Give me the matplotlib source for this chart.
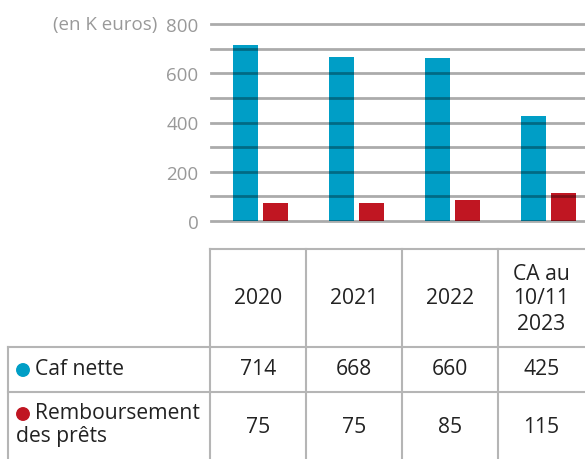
import matplotlib
matplotlib.use("Agg")
import matplotlib.pyplot as plt
from matplotlib.lines import Line2D
from matplotlib.patches import Ellipse

# ---- data ----
categories = ["2020", "2021", "2022", "CA au\n10/11\n2023"]
caf_nette = [714, 668, 660, 425]
remboursement = [75, 75, 85, 115]
series_labels = ["Caf nette", "Remboursement\ndes prêts"]
yticks = [0, 200, 400, 600, 800]
unit_label = "(en K euros)"

BLUE = "#009ec6"
RED = "#c01622"
TXT = "#222222"
TICK = "#999999"
FONT = "Open Sans"

W, H = 585, 460
fig = plt.figure(figsize=(W / 100, H / 100), dpi=100)

def fx(px):
    return px / W

def fy(py):
    return 1 - py / H

# ---- bar chart axes ----
ax_left, ax_right, ax_top, ax_bot = 211, 585, 25, 222
ax = fig.add_axes([fx(ax_left), fy(ax_bot), fx(ax_right - ax_left), (ax_bot - ax_top) / H])
col_w = 96.0
c0 = 258.0
ax.set_xlim((ax_left - c0) / col_w, (ax_right - c0) / col_w)
ax.set_ylim(0, 800)
bw = 25 / col_w
xs = list(range(len(categories)))
ax.bar([x - 12.5 / col_w for x in xs], caf_nette, width=bw, color=BLUE, zorder=2)
ax.bar([x + 17.5 / col_w for x in xs], remboursement, width=bw, color=RED, zorder=2)
for v in range(0, 801, 100):
    ax.axhline(v, color="black", alpha=0.33, lw=2, zorder=3, clip_on=False)
for s in ax.spines.values():
    s.set_visible(False)
ax.set_xticks([])
ax.set_yticks(yticks)
ax.set_yticklabels([str(t) for t in yticks], fontsize=13.5, color=TICK, family=FONT)
ax.tick_params(axis="y", length=0, pad=9)
fig.text(fx(157), fy(25), unit_label, fontsize=13.5, color=TICK, family=FONT,
         ha="right", va="center")

# ---- table ----
lc = "#b5b5b5"
lw = 1.5
col_edges = [8, 210, 306, 402, 498, 585]
row_edges = [250, 348, 393, 460]

def hline(y, x0, x1):
    fig.add_artist(Line2D([fx(x0), fx(x1)], [fy(y), fy(y)], color=lc, lw=lw))

def vline(x, y0, y1):
    fig.add_artist(Line2D([fx(x), fx(x)], [fy(y0), fy(y1)], color=lc, lw=lw))

hline(row_edges[0], col_edges[1], col_edges[-1])
hline(row_edges[1], col_edges[0], col_edges[-1])
hline(row_edges[2], col_edges[0], col_edges[-1])
vline(col_edges[0], row_edges[1], row_edges[3])
for x in col_edges[1:5]:
    vline(x, row_edges[0], row_edges[3])

fs = 15.2
for i, cat in enumerate(categories):
    cx = (col_edges[i + 1] + col_edges[i + 2]) / 2
    fig.text(fx(cx), fy(299), cat, fontsize=fs, color=TXT, family=FONT,
             ha="center", va="center", linespacing=1.25)
    fig.text(fx(cx), fy(370), str(caf_nette[i]), fontsize=fs, color=TXT, family=FONT,
             ha="center", va="center")
    fig.text(fx(cx), fy(428), str(remboursement[i]), fontsize=fs, color=TXT, family=FONT,
             ha="center", va="center")

# row labels with dots
d = 12.5
fig.add_artist(Ellipse((fx(23), fy(371)), d / W, d / H, color=BLUE, transform=fig.transFigure))
fig.text(fx(35), fy(370), series_labels[0], fontsize=fs, color=TXT, family=FONT,
         ha="left", va="center")
fig.add_artist(Ellipse((fx(23), fy(415)), d / W, d / H, color=RED, transform=fig.transFigure))
first, second = series_labels[1].split("\n")
fig.text(fx(35), fy(414), first, fontsize=fs, color=TXT, family=FONT,
         ha="left", va="center")
fig.text(fx(16), fy(437), second, fontsize=fs, color=TXT, family=FONT,
         ha="left", va="center")

fig.savefig("out.png", dpi=100)
